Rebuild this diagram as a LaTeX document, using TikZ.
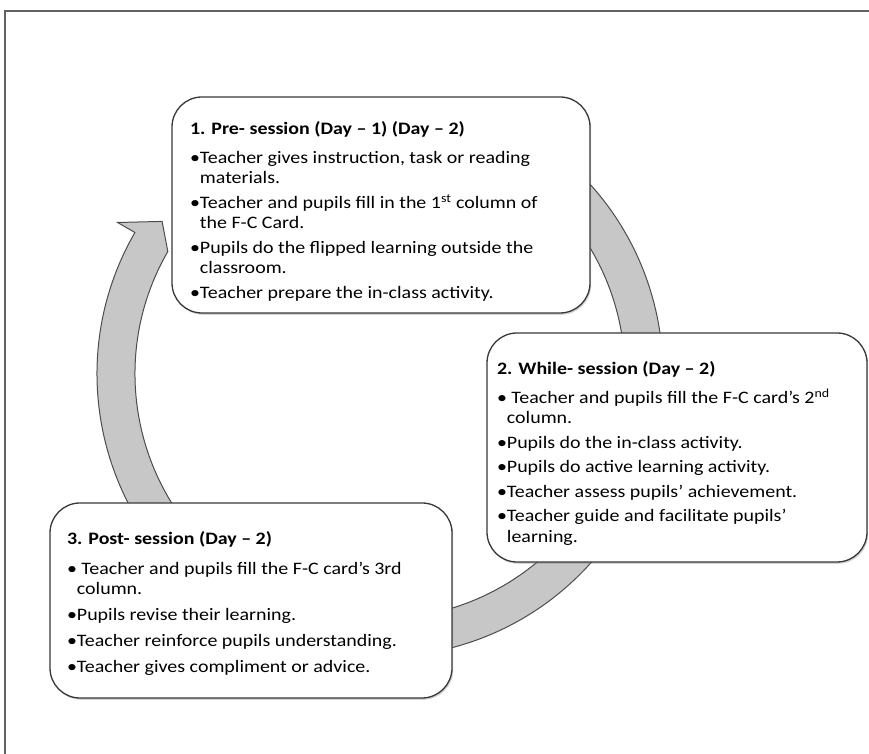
\documentclass[tikz,border=0pt]{standalone}
\usepackage{fontspec}
\setmainfont{Carlito}[FakeStretch=1.14]
\usepackage{tikz}
\usetikzlibrary{calc,shadows}
\tikzset{>=latex}
\tikzset{
  stage/.style={draw=black!78, fill=white, line width=1.3pt, rounded corners=30pt,
    inner ysep=0pt, font=\fontsize{17.5}{20.5}\selectfont,
    drop shadow={shadow xshift=1.2pt, shadow yshift=-1.8pt, opacity=.35}},
  cyclearrow/.style={fill=black!22, draw=black!70, line width=1pt},
  frameline/.style={draw=black!62, line width=1.3pt}
}
% text of one stage: height, width, top gap, item gap, lines
\newcommand{\stagetext}[5]{\parbox[c][#1][t]{#2}{\raggedright\setlength{\parskip}{#4}\vspace*{#3}#5}}
\newcommand{\stagetitle}[1]{\textbf{#1}\par\vspace{4pt}}
\newcommand{\bitem}[1]{\par\setbox0\hbox{\textbullet}\hangindent=\wd0 \hangafter=1 \textbullet#1\par}

\begin{document}
\begin{tikzpicture}[x=1pt,y=1pt]
  \useasboundingbox (0,0) rectangle (869,754);
  \draw[frameline] (5,0) |- (869,743); % page edge

  % the ring arrow, drawn first so the boxes sit on it
  \coordinate (hub) at (380,380);
  \draw[cyclearrow] ($(hub)+(55:283)$) arc[start angle=55, end angle=-210, radius=283]
       -- ($(hub)+(-210:303)$) -- ($(hub)+(-215:266)$) -- ($(hub)+(-210:245)$)
       arc[start angle=-210, end angle=55, radius=245] -- cycle;

  \node[stage, inner xsep=18pt] (pre) at (381,549) {\stagetext{216pt}{382pt}{21pt}{4pt}{%
    \stagetitle{1. Pre- session (Day – 1) (Day – 2)}
    \bitem{Teacher gives instruction, task or reading\newline materials.}
    \bitem{Teacher and pupils fill in the 1\textsuperscript{st} column of\newline the F-C Card.}
    \bitem{Pupils do the flipped learning outside the\newline classroom.}
    \bitem{Teacher prepare the in-class activity.}}};

  \node[stage, inner xsep=10pt] (while) at (677,306.5) {\stagetext{229pt}{360pt}{25pt}{4pt}{%
    \stagetitle{2. While- session (Day – 2)}
    \bitem{\ Teacher and pupils fill the F-C card’s 2\textsuperscript{nd}\newline column.}
    \bitem{Pupils do the in-class activity.}
    \bitem{Pupils do active learning activity.}
    \bitem{Teacher assess pupils’ achievement.}
    \bitem{Teacher guide and facilitate pupils’\newline learning.}}};

  \node[stage, inner xsep=17pt] (post) at (251,153.5) {\stagetext{195pt}{368pt}{23pt}{5.5pt}{%
    \stagetitle{3. Post- session (Day – 2)}
    \bitem{\ Teacher and pupils fill the F-C card’s 3rd\newline column.}
    \bitem{Pupils revise their learning.}
    \bitem{Teacher reinforce pupils understanding.}
    \bitem{Teacher gives compliment or advice.}}};
\end{tikzpicture}
\end{document}
